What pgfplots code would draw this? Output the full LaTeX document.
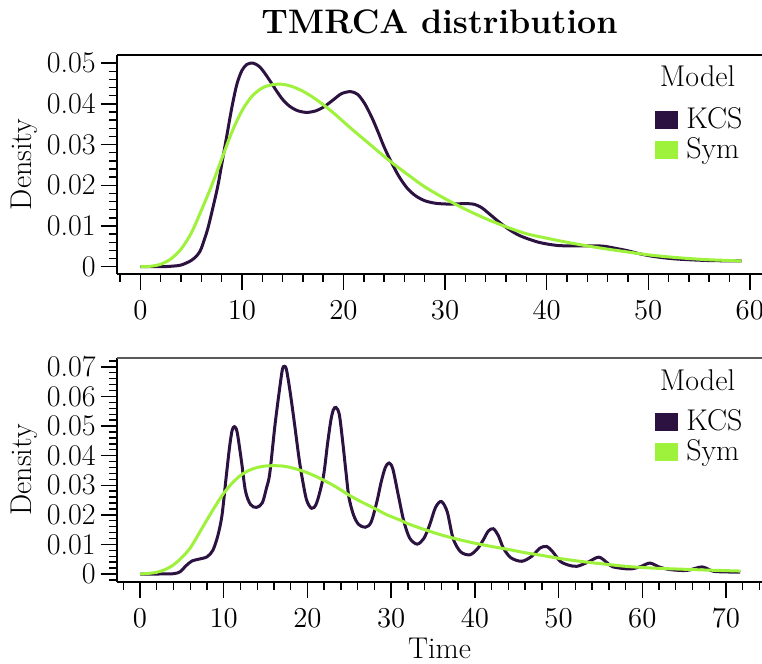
\documentclass[border=0pt]{standalone}
\usepackage{pgfplots}
\usepackage{pgfplotstable}
\pgfplotsset{compat=1.18}
\definecolor{kcs}{HTML}{2C1240}
\definecolor{sym}{HTML}{9EF23C}

\pgfplotstableread{
t d
0 0
2 0
3 0.0001
4 0.0004
5 0.0015
5.6 0.0028
6 0.0045
6.6 0.0090
7 0.0130
7.6 0.0195
8 0.0250
8.5 0.0320
9 0.0390
9.5 0.0448
10 0.0482
10.5 0.0497
11.1 0.0500
11.7 0.0492
12.2 0.0477
12.8 0.0455
13.4 0.0432
14 0.0411
14.7 0.0394
15.5 0.0383
16.4 0.0379
17.3 0.0383
18.1 0.0393
19 0.0410
19.8 0.0425
20.7 0.0430
21.4 0.0423
22.1 0.0400
22.8 0.0366
23.4 0.0331
24 0.0294
24.7 0.0257
25.5 0.0220
26.3 0.0192
27.1 0.0174
28 0.0162
29 0.0156
30 0.0154
31 0.0154
32 0.0155
32.9 0.0153
33.6 0.0145
34.2 0.0133
35.2 0.0112
36.2 0.0093
37.2 0.0078
38.2 0.0068
39.2 0.0060
40.2 0.0055
41.1 0.0052
42.1 0.0051
43 0.0051
44 0.0051
45 0.0051
45.7 0.0050
46.8 0.0045
48 0.0039
49.1 0.0032
50.3 0.0026
51.8 0.0021
53.3 0.0018
56 0.0015
59.2 0.0014
}\kcstop

\pgfplotstableread{
t d
0 0
1 0.0001
2 0.0006
3 0.0019
4 0.0043
5 0.0082
6 0.0138
7 0.0198
8 0.0264
9 0.0330
10 0.0383
11 0.0419
12 0.0439
13 0.0447
14 0.0448
15 0.0442
16 0.0431
17 0.0416
18 0.0398
19 0.0378
20 0.0356
21 0.0334
22 0.0313
23 0.0292
24 0.0271
25 0.0251
26.5 0.0223
28 0.0196
30 0.0167
32 0.0141
34 0.0118
36 0.0098
38 0.0081
40 0.0070
42 0.0060
44 0.0051
46 0.0043
48 0.0036
50 0.0029
52 0.0024
54 0.0020
56 0.0017
59.2 0.0014
}\symtop

\pgfplotstableread{
t d
0 0
2 0
4 0.0001
4.8 0.0008
5.5 0.0028
6.2 0.0044
7.0 0.0050
8.0 0.0058
8.7 0.0080
9.3 0.0130
9.8 0.0200
10.3 0.0330
10.7 0.0430
11.0 0.0485
11.27 0.0498
11.6 0.0480
12.1 0.0385
12.6 0.0280
13.2 0.0235
13.9 0.0225
14.6 0.0240
15.1 0.0290
15.5 0.0340
16.1 0.0498
16.6 0.0610
17.0 0.0690
17.24 0.0702
17.5 0.0690
17.96 0.0610
18.5 0.0498
19.0 0.0390
19.4 0.0320
19.9 0.0250
20.5 0.0222
21.1 0.0240
21.9 0.0329
22.4 0.0440
22.8 0.0520
23.1 0.0555
23.4 0.0563
23.8 0.0540
24.2 0.0450
24.6 0.0345
24.95 0.0260
25.5 0.0200
26.1 0.0168
26.9 0.0158
27.6 0.0175
28.3 0.0245
28.8 0.0310
29.3 0.0360
29.75 0.0375
30.2 0.0355
30.9 0.0260
31.5 0.0180
32.2 0.0122
33.1 0.0101
33.9 0.0120
34.6 0.0166
35.3 0.0225
36.0 0.0245
36.7 0.0210
37.4 0.0120
38.3 0.0075
39.4 0.0065
40.3 0.0085
41.0 0.0115
41.6 0.0145
42.2 0.0153
42.8 0.0130
43.4 0.0088
44.3 0.0055
45.6 0.0043
46.8 0.0060
47.8 0.0088
48.6 0.0093
49.3 0.0075
50.2 0.0043
51.2 0.0030
52.2 0.0026
53.5 0.0040
54.8 0.0057
55.8 0.0038
56.5 0.0024
58.5 0.0017
59.8 0.0025
60.9 0.0037
62.0 0.0024
63.3 0.0015
65.3 0.0012
67.1 0.0024
68.2 0.0012
68.9 0.0008
71.7 0.0006
}\kcsbot

\pgfplotstableread{
t d
0 0
1 0.0002
2 0.0006
3 0.0015
4 0.0031
5 0.0056
6 0.0088
7 0.0135
8 0.0183
9 0.0230
10 0.0273
11 0.0307
12 0.0333
13 0.0350
14 0.0360
15 0.0365
16 0.0366
17 0.0365
18 0.0360
19 0.0352
20 0.0342
21 0.0330
22 0.0316
23 0.0301
24 0.0284
25 0.0266
26.5 0.0243
28 0.0222
29.5 0.0200
31 0.0183
32 0.0170
34 0.0150
36 0.0132
38 0.0117
40 0.0104
42 0.0093
44 0.0083
46 0.0072
48 0.0063
50 0.0053
52 0.0045
54 0.0038
56 0.0032
58 0.0026
60 0.0022
62 0.0019
64 0.0017
66 0.0015
68 0.0013
71.7 0.0010
}\symbot

\pgfplotsset{
  myaxis/.style={
    scale only axis,
    width=322.5pt,
    axis lines*=left,
    clip mode=individual,
    scaled ticks=false,
    tick align=outside,
    major tick length=8pt,
    minor tick length=4pt,
    tick style={black, line width=0.7pt},
    axis line style={black, line width=0.9pt},
    tick label style={font=\fontsize{15}{18}\selectfont},
    label style={font=\fontsize{15}{18}\selectfont},
    yticklabel style={inner xsep=2.5pt},
    xticklabel style={yshift=-1.8pt},
    ylabel=Density,
    ylabel style={at={(axis description cs:-0.1442,0.5)}, anchor=center},
    legend style={draw=none, fill=none, inner sep=0pt,
      font=\fontsize{15}{18}\selectfont,
      nodes={inner xsep=4pt, inner ysep=0pt, text height=10.5pt, text depth=4.5pt, anchor=west},
      row sep=0pt, column sep=0pt},
    legend image code/.code={\fill[##1] (0pt,-2.5pt) rectangle (10pt,5pt);},
    legend cell align=left,
  }
}

\begin{document}
\begin{tikzpicture}
\begin{axis}[myaxis,
  at={(0,0)}, anchor=south west,
  height=109.5pt,
  xmin=-2.3, xmax=61.2,
  ymin=-0.0018, ymax=0.0520,
  xtick={0,10,20,30,40,50,60},
  minor xtick={-2,0,...,60},
  ytick={0,0.01,0.02,0.03,0.04,0.05},
  yticklabels={0,0.01,0.02,0.03,0.04,0.05},
  minor ytick={0.002,0.004,0.006,0.008,0.012,0.014,0.016,0.018,0.022,0.024,0.026,0.028,0.032,0.034,0.036,0.038,0.042,0.044,0.046,0.048},
  legend style={at={(axis description cs:0.834,0.7626)}, anchor=north west},
]
\addplot[kcs, line width=1.5pt, smooth] table[x=t, y=d] {\kcstop};
\addlegendentry{KCS}
\addplot[sym, line width=1.5pt, smooth] table[x=t, y=d] {\symtop};
\addlegendentry{Sym}
\draw[black, line width=0.9pt] (axis description cs:0,1) -- (axis description cs:1,1);
\node[font=\fontsize{15}{18}\selectfont, anchor=base] at (axis description cs:0.9,0.854) {Model};
\node[font=\fontsize{17}{20}\selectfont\bfseries, anchor=base] at ([yshift=10.8pt]axis description cs:0.5,1) {TMRCA distribution};
\end{axis}

\begin{axis}[myaxis,
  at={(0,-154pt)}, anchor=south west,
  height=112pt,
  xmin=-2.75, xmax=74.3,
  ymin=-0.0027, ymax=0.0730,
  xtick={0,10,20,30,40,50,60,70},
  minor xtick={-2,0,...,74},
  ytick={0,0.01,0.02,0.03,0.04,0.05,0.06,0.07},
  yticklabels={0,0.01,0.02,0.03,0.04,0.05,0.06,0.07},
  minor ytick={-0.002,0.002,0.004,0.006,0.008,0.012,0.014,0.016,0.018,0.022,0.024,0.026,0.028,0.032,0.034,0.036,0.038,0.042,0.044,0.046,0.048,0.052,0.054,0.056,0.058,0.062,0.064,0.066,0.068,0.072},
  xlabel=Time,
  xlabel style={at={(axis description cs:0.5,0)}, anchor=base, yshift=-38pt},
  legend style={at={(axis description cs:0.834,0.773)}, anchor=north west},
]
\addplot[kcs, line width=1.5pt, smooth] table[x=t, y=d] {\kcsbot};
\addlegendentry{KCS}
\addplot[sym, line width=1.5pt, smooth] table[x=t, y=d] {\symbot};
\addlegendentry{Sym}
\draw[black!65, line width=0.9pt] (axis description cs:0,1) -- (axis description cs:1,1);
\node[font=\fontsize{15}{18}\selectfont, anchor=base] at (axis description cs:0.9,0.857) {Model};
\end{axis}
\pgfresetboundingbox
\path (-58.5pt,-195pt) rectangle (322.5pt,137pt);
\end{tikzpicture}
\end{document}
